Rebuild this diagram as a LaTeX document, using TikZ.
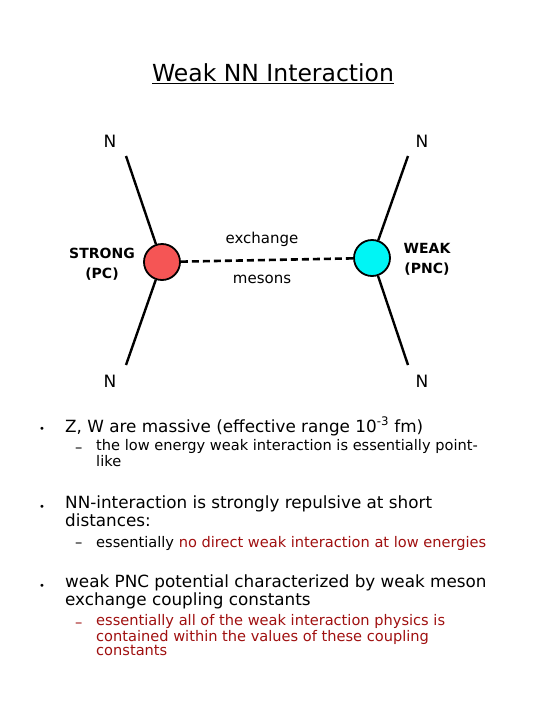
\documentclass[tikz,border=0pt]{standalone}
\usepackage{fontspec}
\setmainfont{DejaVu Sans}
\usetikzlibrary{positioning}
\definecolor{strongred}{RGB}{245, 85, 85}
\definecolor{weakcyan}{RGB}{0, 245, 245}
\definecolor{notered}{RGB}{160, 16, 16}

\begin{document}
\begin{tikzpicture}[
  x=1pt, y=-1pt,
  vertex/.style={
    circle,
    draw=black,
    line width=1.8pt,
    minimum size=36pt,
    inner sep=0pt
  },
  leg/.style={line width=2.4pt},
  nucleon/.style={font=\fontsize{17}{17}\selectfont, anchor=base},
  coupling/.style={font=\bfseries\fontsize{14}{20}\selectfont, align=center, anchor=base},
  meson/.style={font=\fontsize{15}{15}\selectfont, anchor=base},
  mainitem/.style={font=\fontsize{16.8}{16}\selectfont, align=left, anchor=base west, inner sep=0pt},
  subitem/.style={font=\fontsize{14.6}{14}\selectfont, align=left, anchor=base west, inner sep=0pt}
]

  % Page frame
  \fill[white] (0,0) rectangle (540,720);
  \useasboundingbox (0,0) rectangle (540,720);

  % Title
  \node[font=\fontsize{23.5}{24}\selectfont, anchor=base] (title) at (273,81) {\underline{Weak NN Interaction}};

  % Vertices
  \node[vertex, fill=strongred] (strong) at (162,262) {};
  \node[vertex, fill=weakcyan] (weak) at (372,258) {};

  % Nucleon legs
  \coordinate (tl) at (126,156);
  \coordinate (bl) at (126,365);
  \coordinate (tr) at (408,156);
  \coordinate (br) at (408,365);
  \draw[leg] (tl) -- (strong);
  \draw[leg] (bl) -- (strong);
  \draw[leg] (tr) -- (weak);
  \draw[leg] (br) -- (weak);

  \node[nucleon] (ntl) at (110,147) {N};
  \node[nucleon] (nbl) at (110,387) {N};
  \node[nucleon] (ntr) at (422,147) {N};
  \node[nucleon] (nbr) at (422,387) {N};

  % Meson exchange
  \draw[line width=2.6pt, dash pattern=on 7pt off 4pt] (strong) -- (weak);
  \node[meson] (exch) at (262,243) {exchange};
  \node[meson] (mes) at (262,283) {mesons};

  % base of a two-line node is its last line
  \node[coupling] (strongl) at (102,278) {STRONG\\(PC)};
  \node[coupling] (weakl) at (427,273) {WEAK\\(PNC)};

  % Bullet points
  \node[font=\fontsize{10}{10}\selectfont, anchor=base] (d1) at (42,432) {\textbullet};
  \node[mainitem] (b1) at (65,432) {Z, W are massive (effective range 10\textsuperscript{-3} fm)};
  \node[subitem] (e1) at (75,452) {--};
  \node[subitem] (s1) at (96,466) {the low energy weak interaction is essentially point-\\like};

  \node[font=\fontsize{10}{10}\selectfont, anchor=base] (d2) at (42,510) {\textbullet};
  \node[mainitem] (b2) at (65,526) {NN-interaction is strongly repulsive at short\\distances:};
  \node[subitem] (e2) at (75,547) {--};
  \node[subitem] (s2) at (96,547) {essentially \textcolor{notered}{no direct weak interaction at low energies}};

  \node[font=\fontsize{10}{10}\selectfont, anchor=base] (d3) at (42,589) {\textbullet};
  \node[mainitem] (b3) at (65,605) {weak PNC potential characterized by weak meson\\exchange coupling constants};
  \node[subitem, text=notered] (e3) at (75,627) {--};
  \node[subitem, text=notered] (s3) at (96,655) {essentially all of the weak interaction physics is\\contained within the values of these coupling\\constants};

\end{tikzpicture}
\end{document}
